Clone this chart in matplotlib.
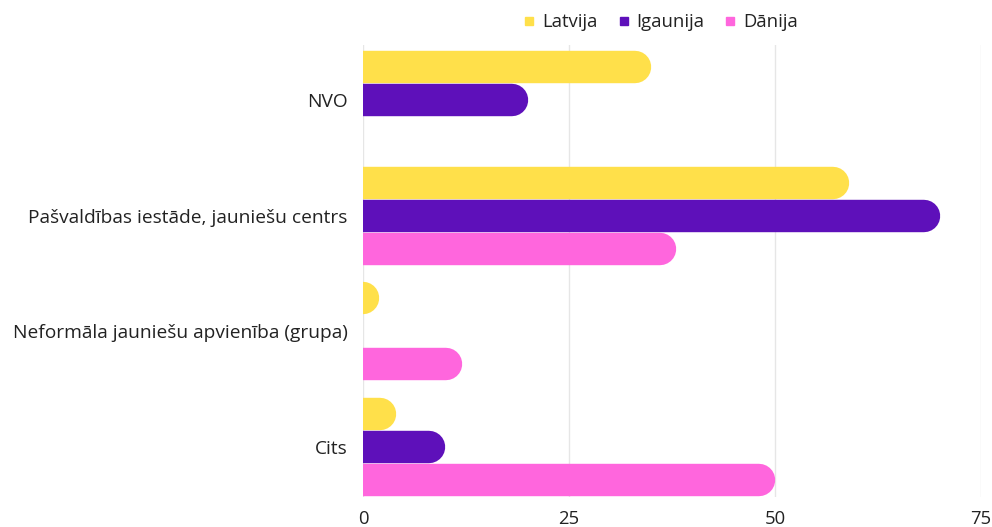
import matplotlib
matplotlib.use("Agg")
import matplotlib.pyplot as plt
from matplotlib.lines import Line2D

plt.rcParams['font.family'] = ['Open Sans', 'DejaVu Sans']

categories = ['NVO', 'Pašvaldības iestāde, jauniešu centrs',
              'Neformāla jauniešu apvienība (grupa)', 'Cits']
series = ['Latvija', 'Igaunija', 'Dānija']
latvija = [35, 59, 2, 4]
igaunija = [20, 70, 0, 10]
danija = [0, 38, 12, 50]
values = [latvija, igaunija, danija]
colors = ['#FFE04A', '#5E10BA', '#FF66DD']
xticks = [0, 25, 50, 75]

W, H = 992, 527
fig = plt.figure(figsize=(W / 100, H / 100), dpi=100)
ax = fig.add_axes([363 / W, 1 - 497 / H, (981 - 363) / W, (497 - 45) / H])
ax.set_xlim(0, 75)
ax.set_ylim(3.43, -0.475)

bar_h = 0.28
step = 0.285
# bar thickness in pixels / points and the end radius in data units
y_px = abs(ax.transData.transform((0, 0))[1] - ax.transData.transform((0, bar_h))[1])
x_px = ax.transData.transform((1, 0))[0] - ax.transData.transform((0, 0))[0]
lw = y_px * 72 / fig.dpi
r = (y_px / 2) / x_px

for i, ser in enumerate(values):
    for j, v in enumerate(ser):
        if v <= 0:
            continue
        y = j + (i - 1) * step
        end = max(v - r, 0)
        ax.plot([-r, end], [y, y], color=colors[i], lw=lw,
                solid_capstyle='round', zorder=3)

ax.set_xticks(xticks)
ax.set_yticks(range(len(categories)))
ax.set_yticklabels(categories)
ax.tick_params(length=0, labelsize=13.3, colors='#222222')
ax.tick_params(axis='y', labelsize=13.8, pad=11)
ax.tick_params(axis='x', pad=9)
ax.grid(axis='x', color='#e6e6e6', lw=1, zorder=0)
ax.set_axisbelow(True)
for s in ax.spines.values():
    s.set_visible(False)

handles = [Line2D([], [], marker='s', ls='', color=c, markersize=5.5) for c in colors]
fig.legend(handles, series, loc='center', bbox_to_anchor=(660 / W, 1 - 22 / H),
           ncol=3, frameon=False, fontsize=13.3, handlelength=0.8,
           handletextpad=0.3, columnspacing=1.0, labelcolor='#222222')

fig.savefig('out.png', dpi=100)
